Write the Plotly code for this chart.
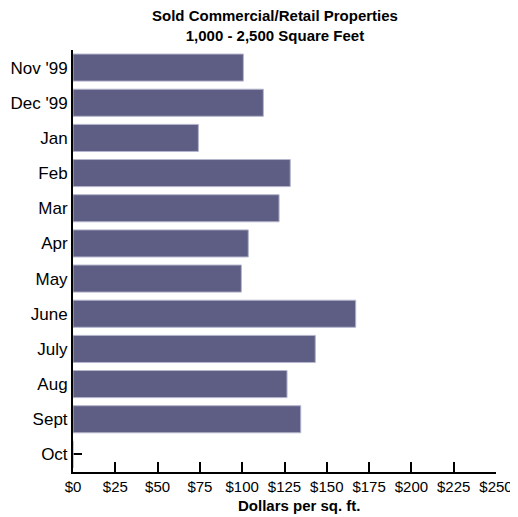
import plotly.graph_objects as go

months = ["Nov '99", "Dec '99", "Jan", "Feb", "Mar", "Apr", "May", "June", "July", "Aug", "Sept", "Oct"]
dollars = [100.7, 112.5, 74.1, 128.4, 121.8, 103.6, 99.5, 167.1, 143.2, 126.5, 134.6, 0]
tick_vals = [0, 25, 50, 75, 100, 125, 150, 175, 200, 225, 250]
tick_text = ["$" + str(v) for v in tick_vals]

cond = "Liberation Sans Narrow, Arial Narrow, Liberation Sans, Arial, sans-serif"
reg = "Liberation Sans, Arial, Helvetica, sans-serif"

# page body has an 8px margin, so the figure is offset by 8px
OFF = 8
W, H = 518 - OFF, 517 - OFF
L, T = 73 - OFF, 50 - OFF
R = W - (496 - OFF)
B = H - (472 - OFF)
plot_w = W - L - R
plot_h = H - T - B

def px_x(x):
    return (x - OFF - L) / plot_w

def px_y(y):
    return (H - B - (y - OFF)) / plot_h

fig = go.Figure(go.Bar(
    y=months, x=dollars, orientation="h",
    marker=dict(color="#5e5e84", line=dict(color="#b4b4cc", width=1)),
    width=0.77,
))

fig.update_layout(
    width=W, height=H,
    margin=dict(l=L, r=R, t=T, b=B),
    paper_bgcolor="white", plot_bgcolor="white",
    showlegend=False,
    annotations=[
        dict(text="<b>Sold Commercial/Retail Properties<br>1,000 - 2,500 Square Feet</b>",
             x=px_x(275), y=px_y(25), xref="paper", yref="paper",
             xanchor="center", yanchor="middle", showarrow=False,
             font=dict(family=cond, size=15, color="black")),
        dict(text="<b>Dollars per sq. ft.</b>",
             x=px_x(299), y=px_y(505), xref="paper", yref="paper",
             xanchor="center", yanchor="middle", showarrow=False,
             font=dict(family=cond, size=15, color="black")),
    ],
)

fig.update_xaxes(
    range=[0, 250], tickvals=tick_vals, ticktext=tick_text,
    showgrid=False, zeroline=False, automargin=False,
    showline=True, linecolor="black", linewidth=2, layer="below traces",
    ticks="inside", ticklen=10, tickwidth=2, tickcolor="black",
    tickfont=dict(family=reg, size=15, color="black"),
)
fig.update_yaxes(
    autorange="reversed", showgrid=False, zeroline=False, automargin=False,
    showline=True, linecolor="black", linewidth=2, layer="below traces",
    ticks="inside", ticklen=9, tickwidth=2, tickcolor="black",
    tickfont=dict(family=reg, size=17, color="black"),
)

fig.write_html("out.html")
